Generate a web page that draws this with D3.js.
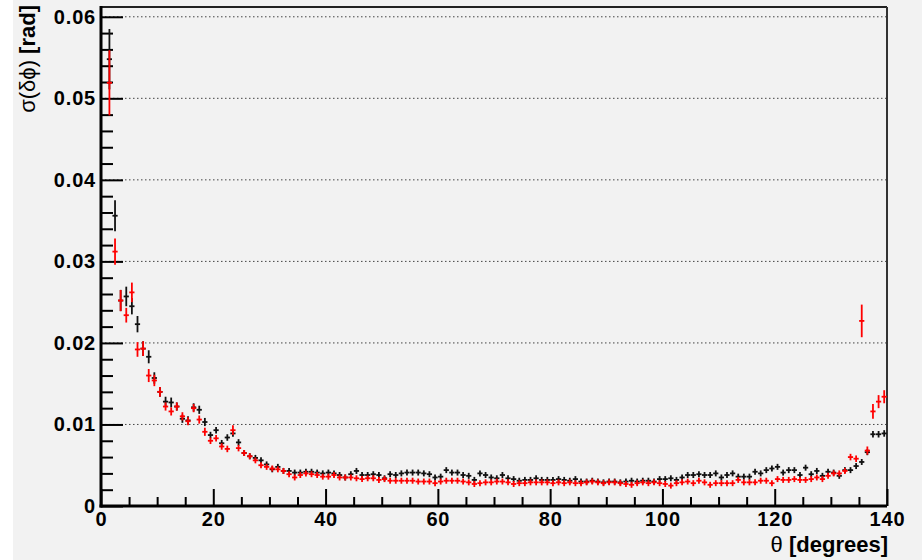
<!DOCTYPE html>
<html><head><meta charset="utf-8">
<script src="https://cdn.jsdelivr.net/npm/d3@7"></script>
<style>
body{margin:0;background:#fff;}
svg{display:block;}
text{font-family:"Liberation Sans",Arial,Helvetica,sans-serif;}
</style>
</head><body>
<svg id="c" width="922" height="560"></svg>
<script>
// ---- data ----
// theta bins: 1 degree wide, low edges 0..139 (degrees)
const binLow = d3.range(0, 140);
const binWidth = 1;

// black series sigma(dphi) [rad], index = bin
const blackVal = [
 null, 0.0548, 0.0356, 0.0252, 0.0257, 0.0245, 0.0223, 0.0193, 0.0183, 0.0157,
 0.0140, 0.0128, 0.0127, 0.0122, 0.0107, 0.0105, 0.0121, 0.0118, 0.0103, 0.0087,
 0.0093, 0.0077, 0.0084, 0.0089, 0.0078, 0.0065, 0.0061, 0.0059, 0.0056, 0.0051,
 0.0045, 0.0048, 0.0043, 0.0043, 0.0041, 0.0041, 0.0042, 0.0042, 0.0041, 0.0040,
 0.0041, 0.0040, 0.0038, 0.0035, 0.0039, 0.0043, 0.0038, 0.0038, 0.0039, 0.0038,
 0.0034, 0.0039, 0.0038, 0.0040, 0.0041, 0.0041, 0.0041, 0.0040, 0.0039, 0.0035,
 0.0036, 0.0044, 0.0041, 0.0041, 0.0038, 0.0037, 0.0032, 0.0040, 0.0038, 0.0035,
 0.0034, 0.0038, 0.0034, 0.0033, 0.0031, 0.0032, 0.0032, 0.0034, 0.0032, 0.0032,
 0.0032, 0.0033, 0.0032, 0.0031, 0.0033, 0.0030, 0.0030, 0.0031, 0.0030, 0.0029,
 0.0030, 0.0030, 0.0029, 0.0030, 0.0031, 0.0030, 0.0031, 0.0031, 0.0030, 0.0033,
 0.0033, 0.0034, 0.0032, 0.0035, 0.0038, 0.0038, 0.0039, 0.0038, 0.0038, 0.0040,
 0.0035, 0.0038, 0.0040, 0.0036, 0.0036, 0.0036, 0.0042, 0.0040, 0.0044, 0.0046,
 0.0048, 0.0041, 0.0044, 0.0044, 0.0038, 0.0047, 0.0039, 0.0043, 0.0037, 0.0042,
 0.0041, 0.0037, 0.0044, 0.0044, 0.0049, 0.0054, 0.0066, 0.0088, 0.0088, 0.0089
];
const blackErr = [
 null, 0.0037, 0.0019, 0.0013, 0.0012, 0.0010, 0.0010, 0.0009, 0.0008, 0.0007,
 0.0006, 0.0006, 0.0006, 0.0005, 0.0005, 0.0005, 0.0005, 0.0005, 0.0005, 0.0004,
 0.0004, 0.0004, 0.0004, 0.0004, 0.0004, 0.0003, 0.0003, 0.0003, 0.0003, 0.0003,
 0.0003, 0.0003, 0.0003, 0.0003, 0.0003, 0.0003, 0.0003, 0.0002, 0.0002, 0.0002,
 0.0002, 0.0002, 0.0002, 0.0002, 0.0002, 0.0002, 0.0002, 0.0002, 0.0002, 0.0002,
 0.0002, 0.0002, 0.0002, 0.0002, 0.0002, 0.0002, 0.0002, 0.0002, 0.0002, 0.0002,
 0.0002, 0.0002, 0.0002, 0.0002, 0.0002, 0.0002, 0.0002, 0.0002, 0.0002, 0.0002,
 0.0002, 0.0002, 0.0002, 0.0002, 0.0002, 0.0002, 0.0002, 0.0002, 0.0002, 0.0002,
 0.0002, 0.0002, 0.0002, 0.0002, 0.0002, 0.0002, 0.0002, 0.0002, 0.0002, 0.0002,
 0.0002, 0.0002, 0.0002, 0.0002, 0.0002, 0.0002, 0.0002, 0.0002, 0.0002, 0.0002,
 0.0002, 0.0002, 0.0002, 0.0002, 0.0002, 0.0002, 0.0002, 0.0002, 0.0002, 0.0002,
 0.0002, 0.0002, 0.0002, 0.0002, 0.0002, 0.0002, 0.0002, 0.0002, 0.0002, 0.0002,
 0.0002, 0.0002, 0.0002, 0.0002, 0.0002, 0.0002, 0.0002, 0.0002, 0.0002, 0.0002,
 0.0002, 0.0002, 0.0002, 0.0003, 0.0003, 0.0003, 0.0003, 0.0004, 0.0004, 0.0004
];

// red series
const redVal = [
 null, 0.0519, 0.0312, 0.0252, 0.0234, 0.0262, 0.0192, 0.0193, 0.0160, 0.0154,
 0.0140, 0.0122, 0.0116, 0.0122, 0.0110, 0.0104, 0.0120, 0.0106, 0.0091, 0.0080,
 0.0083, 0.0073, 0.0070, 0.0093, 0.0071, 0.0065, 0.0061, 0.0056, 0.0050, 0.0048,
 0.0046, 0.0045, 0.0043, 0.0039, 0.0035, 0.0038, 0.0040, 0.0039, 0.0038, 0.0036,
 0.0036, 0.0038, 0.0035, 0.0035, 0.0035, 0.0034, 0.0033, 0.0034, 0.0034, 0.0032,
 0.0033, 0.0031, 0.0031, 0.0031, 0.0031, 0.0031, 0.0030, 0.0030, 0.0030, 0.0028,
 0.0030, 0.0031, 0.0031, 0.0031, 0.0030, 0.0029, 0.0027, 0.0028, 0.0029, 0.0029,
 0.0030, 0.0030, 0.0029, 0.0027, 0.0028, 0.0028, 0.0029, 0.0029, 0.0029, 0.0029,
 0.0028, 0.0029, 0.0028, 0.0029, 0.0028, 0.0028, 0.0029, 0.0030, 0.0029, 0.0028,
 0.0029, 0.0029, 0.0028, 0.0027, 0.0026, 0.0028, 0.0029, 0.0028, 0.0029, 0.0028,
 0.0027, 0.0025, 0.0028, 0.0029, 0.0030, 0.0028, 0.0031, 0.0029, 0.0026, 0.0028,
 0.0028, 0.0028, 0.0028, 0.0032, 0.0029, 0.0029, 0.0029, 0.0031, 0.0031, 0.0028,
 0.0033, 0.0032, 0.0032, 0.0033, 0.0032, 0.0032, 0.0033, 0.0035, 0.0033, 0.0037,
 0.0040, 0.0040, 0.0043, 0.0060, 0.0058, 0.0227, 0.0068, 0.0116, 0.0128, 0.0134
];
const redErr = [
 null, 0.0040, 0.0016, 0.0013, 0.0009, 0.0012, 0.0009, 0.0009, 0.0008, 0.0007,
 0.0006, 0.0005, 0.0005, 0.0005, 0.0005, 0.0005, 0.0005, 0.0005, 0.0005, 0.0004,
 0.0004, 0.0004, 0.0004, 0.0006, 0.0004, 0.0003, 0.0003, 0.0003, 0.0003, 0.0003,
 0.0003, 0.0003, 0.0003, 0.0003, 0.0003, 0.0003, 0.0003, 0.0002, 0.0002, 0.0002,
 0.0002, 0.0002, 0.0002, 0.0002, 0.0002, 0.0002, 0.0002, 0.0002, 0.0002, 0.0002,
 0.0002, 0.0002, 0.0002, 0.0002, 0.0002, 0.0002, 0.0002, 0.0002, 0.0002, 0.0002,
 0.0002, 0.0002, 0.0002, 0.0002, 0.0002, 0.0002, 0.0002, 0.0002, 0.0002, 0.0002,
 0.0002, 0.0002, 0.0002, 0.0002, 0.0002, 0.0002, 0.0002, 0.0002, 0.0002, 0.0002,
 0.0002, 0.0002, 0.0002, 0.0002, 0.0002, 0.0002, 0.0002, 0.0002, 0.0002, 0.0002,
 0.0002, 0.0002, 0.0002, 0.0002, 0.0002, 0.0002, 0.0002, 0.0002, 0.0002, 0.0002,
 0.0002, 0.0002, 0.0002, 0.0002, 0.0002, 0.0002, 0.0002, 0.0002, 0.0002, 0.0002,
 0.0002, 0.0002, 0.0002, 0.0002, 0.0002, 0.0002, 0.0002, 0.0002, 0.0002, 0.0002,
 0.0002, 0.0002, 0.0002, 0.0002, 0.0002, 0.0002, 0.0002, 0.0002, 0.0002, 0.0003,
 0.0003, 0.0003, 0.0003, 0.0004, 0.0004, 0.0020, 0.0005, 0.0009, 0.0008, 0.0008
];

// axis ticks
const yMajorTicks = [0, 0.01, 0.02, 0.03, 0.04, 0.05, 0.06];
const yTickLabels = ["0", "0.01", "0.02", "0.03", "0.04", "0.05", "0.06"];
const xMajorTicks = [0, 20, 40, 60, 80, 100, 120, 140];
const xTickLabels = ["0", "20", "40", "60", "80", "100", "120", "140"];

// ---- drawing ----
const svg = d3.select("#c");
const L = 101, R = 887, T = 7, B = 506;

svg.append("rect").attr("x", 13).attr("y", 0).attr("width", 909).attr("height", 560).attr("fill", "#f2f2f2");

const x = d3.scaleLinear().domain([0, 140]).range([L, R]);
const y = d3.scaleLinear().domain([0, 0.0612]).range([B, T]);

// grid
svg.append("g").selectAll("line").data(yMajorTicks.slice(1)).join("line")
  .attr("x1", L).attr("x2", R).attr("y1", d => y(d)).attr("y2", d => y(d))
  .attr("stroke", "#444").attr("stroke-width", 1).attr("stroke-dasharray", "1.5,2.5");

// frame top/right
svg.append("line").attr("x1", L).attr("x2", R).attr("y1", T).attr("y2", T).attr("stroke", "#222").attr("stroke-width", 2);
svg.append("line").attr("x1", R).attr("x2", R).attr("y1", T).attr("y2", B).attr("stroke", "#333").attr("stroke-width", 2);

// minor ticks
const yMinor = d3.range(1, 31).map(i => i * 0.002).filter(v => Math.abs(v * 100 - Math.round(v * 100)) > 1e-6);
const xMinor = d3.range(5, 140, 5).filter(v => v % 20 !== 0);

const yMinorAxis = d3.axisLeft(y).tickValues(yMinor).tickSizeInner(-12).tickSizeOuter(0).tickFormat("");
const gyMin = svg.append("g").attr("transform", `translate(${L},0)`).call(yMinorAxis);
gyMin.select(".domain").remove();
gyMin.selectAll("line").attr("stroke", "#000").attr("stroke-width", 2);

const xMinorAxis = d3.axisBottom(x).tickValues(xMinor).tickSizeInner(-9).tickSizeOuter(0).tickFormat("");
const gxMin = svg.append("g").attr("transform", `translate(0,${B})`).call(xMinorAxis);
gxMin.select(".domain").remove();
gxMin.selectAll("line").attr("stroke", "#000").attr("stroke-width", 2);

// major axes
const yAxis = d3.axisLeft(y).tickValues(yMajorTicks).tickSizeInner(-22).tickSizeOuter(0).tickPadding(5)
  .tickFormat((d, i) => yTickLabels[i]);
const gy = svg.append("g").attr("transform", `translate(${L},0)`).call(yAxis);
gy.select(".domain").remove();
gy.selectAll("line").attr("stroke", "#000").attr("stroke-width", 2);
gy.selectAll("text").attr("font-size", 20).attr("font-weight", "bold").attr("fill", "#000")
  .attr("letter-spacing", "0.8px").attr("font-family", '"Liberation Sans",Arial,sans-serif');

const xAxis = d3.axisBottom(x).tickValues(xMajorTicks).tickSizeInner(-17).tickSizeOuter(0).tickPadding(6)
  .tickFormat((d, i) => xTickLabels[i]);
const gx = svg.append("g").attr("transform", `translate(0,${B})`).call(xAxis);
gx.select(".domain").remove();
gx.selectAll("line").attr("stroke", "#000").attr("stroke-width", 2);
gx.selectAll("text").attr("font-size", 20).attr("font-weight", "bold").attr("fill", "#000")
  .attr("letter-spacing", "0.8px").attr("font-family", '"Liberation Sans",Arial,sans-serif');

// axis lines
svg.append("line").attr("x1", L).attr("x2", L).attr("y1", T - 1).attr("y2", B + 1.5).attr("stroke", "#000").attr("stroke-width", 3);
svg.append("line").attr("x1", L - 1.5).attr("x2", R).attr("y1", B).attr("y2", B).attr("stroke", "#000").attr("stroke-width", 3);

// data points
function drawSeries(vals, errs, color) {
  const pts = binLow.map((b, i) => ({lo: b, v: vals[i], e: errs[i]})).filter(d => d.v != null);
  const g = svg.append("g").attr("stroke", color).attr("stroke-width", 1.8);
  g.selectAll("line.h").data(pts).join("line").attr("class", "h")
    .attr("x1", d => x(d.lo) + 0.2).attr("x2", d => x(d.lo + binWidth) - 0.2)
    .attr("y1", d => y(d.v)).attr("y2", d => y(d.v));
  g.selectAll("line.v").data(pts).join("line").attr("class", "v")
    .attr("x1", d => x(d.lo + binWidth / 2)).attr("x2", d => x(d.lo + binWidth / 2))
    .attr("y1", d => Math.min(y(d.v + d.e), y(d.v) - 3))
    .attr("y2", d => Math.max(y(d.v - d.e), y(d.v) + 3));
}
drawSeries(blackVal, blackErr, "#111");
drawSeries(redVal, redErr, "#f00");

// titles
const xt = svg.append("text").attr("x", 888).attr("y", 552).attr("text-anchor", "end")
  .attr("font-size", 22).attr("fill", "#000");
xt.append("tspan").text("θ ");
xt.append("tspan").attr("font-weight", "bold").text("[degrees]");

const yt = svg.append("text").attr("transform", "translate(35,5) rotate(-90)").attr("text-anchor", "end")
  .attr("font-size", 22).attr("fill", "#000");
yt.append("tspan").text("σ(δϕ) ");
yt.append("tspan").attr("font-weight", "bold").text("[rad]");
</script>
</body></html>
